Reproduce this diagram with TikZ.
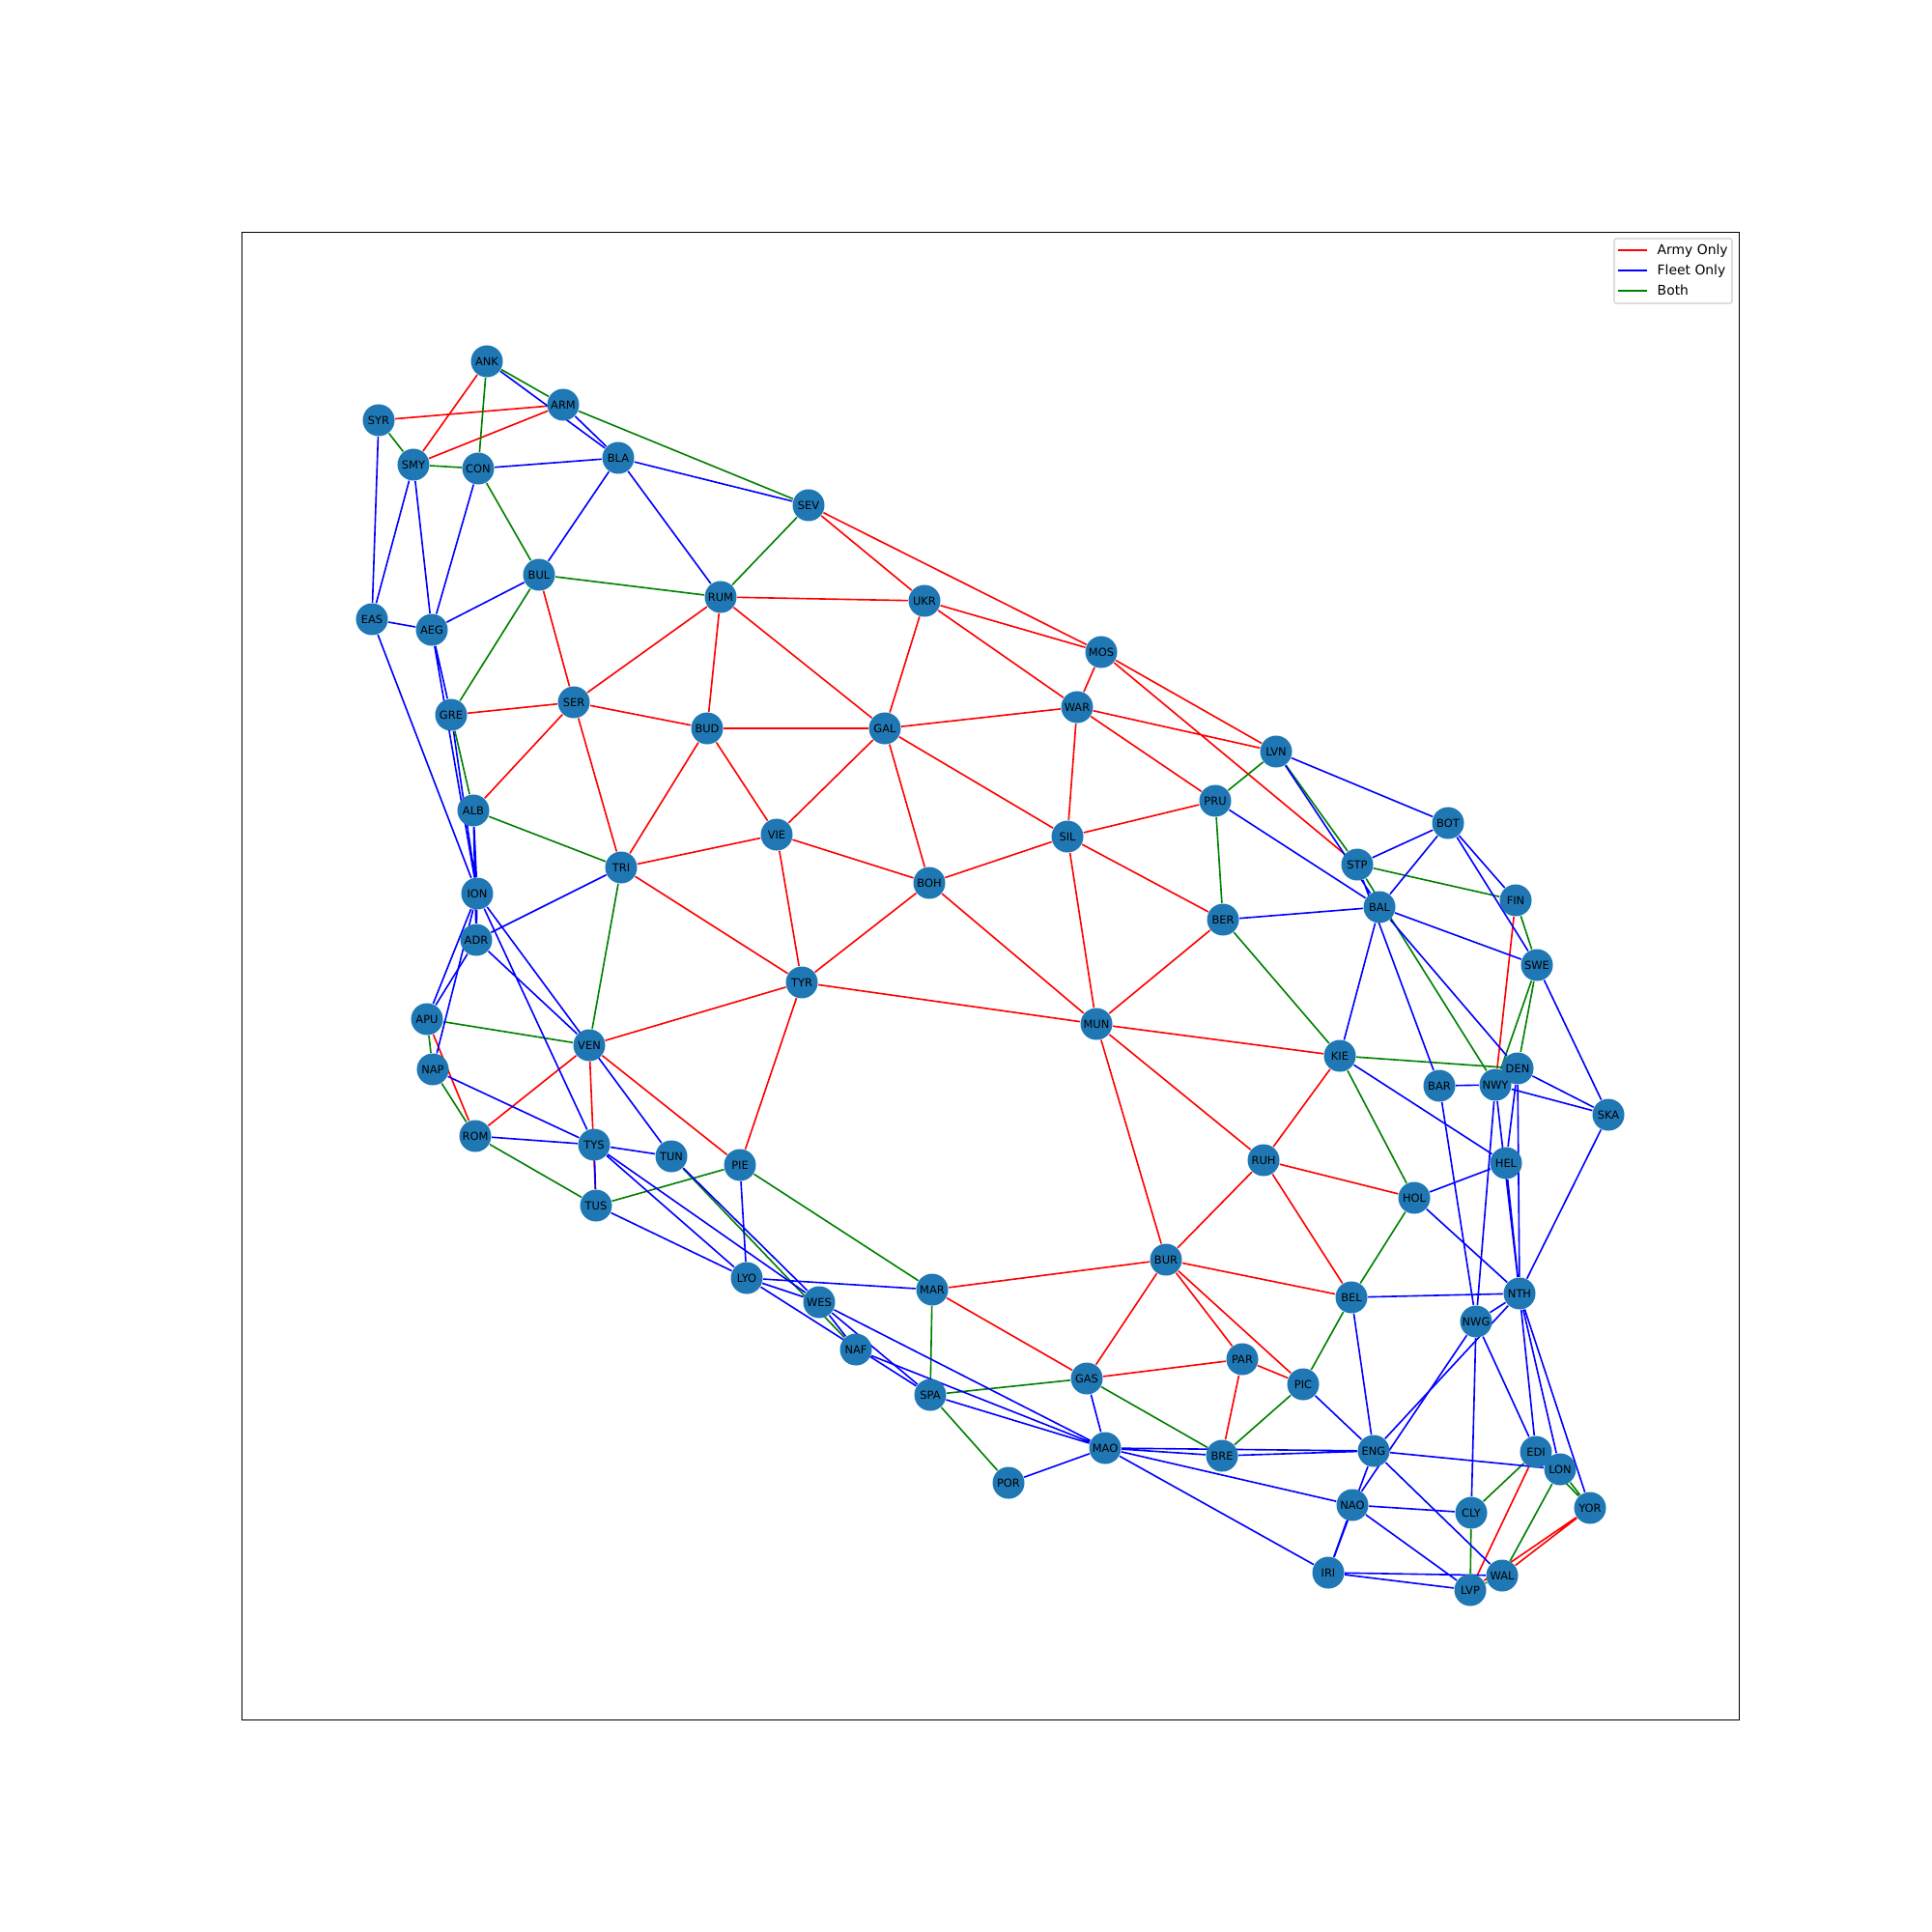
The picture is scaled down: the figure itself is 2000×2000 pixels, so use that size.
\documentclass[tikz,border=0pt]{standalone}
\usepackage{fontspec}
\setmainfont{DejaVu Sans}
\usepackage{tikz}
\usetikzlibrary{backgrounds}
\definecolor{nodeblue}{HTML}{1F77B4}
\definecolor{bothgreen}{HTML}{008000}
\tikzset{
  prov/.style={circle,fill=nodeblue,draw=none,minimum size=.33cm,inner sep=0pt,font=\fontsize{3.25}{3.7}\selectfont,text=black},
  army/.style={draw=red,line width=.46pt},
  fleet/.style={draw=blue,line width=.46pt},
  both/.style={draw=bothgreen,line width=.46pt},
  legtext/.style={anchor=base west,inner sep=0pt,font=\fontsize{3.95}{4.6}\selectfont,text=black}
}

\begin{document}
\begin{tikzpicture}[x=.01cm,y=-.01cm,line cap=round,line join=round]
  \useasboundingbox (0,0) rectangle (2000,2000);
  \draw[line width=.26pt,line cap=butt,line join=miter] (250,240) rectangle (1800,1780);
  % turkey and the balkans
  \node[prov] (ANK) at (504,374) {ANK};
  \node[prov] (ARM) at (583,419) {ARM};
  \node[prov] (SYR) at (392,435) {SYR};
  \node[prov] (SMY) at (428,481) {SMY};
  \node[prov] (CON) at (495,485) {CON};
  \node[prov] (BLA) at (640,474) {BLA};
  \node[prov] (SEV) at (837,523) {SEV};
  \node[prov] (BUL) at (558,595) {BUL};
  \node[prov] (RUM) at (746,618) {RUM};
  \node[prov] (UKR) at (957,622) {UKR};
  \node[prov] (EAS) at (385,641) {EAS};
  \node[prov] (AEG) at (447,652) {AEG};
  \node[prov] (MOS) at (1140,675) {MOS};
  \node[prov] (SER) at (594,727) {SER};
  \node[prov] (WAR) at (1115,732) {WAR};
  \node[prov] (GRE) at (467,740) {GRE};
  \node[prov] (BUD) at (732,754) {BUD};
  \node[prov] (GAL) at (916,754) {GAL};
  \node[prov] (LVN) at (1321,778) {LVN};
  \node[prov] (PRU) at (1258,829) {PRU};
  \node[prov] (ALB) at (490,839) {ALB};
  \node[prov] (BOT) at (1499,852) {BOT};
  \node[prov] (VIE) at (804,864) {VIE};
  \node[prov] (SIL) at (1105,866) {SIL};
  \node[prov] (STP) at (1405,895) {STP};
  \node[prov] (TRI) at (643,898) {TRI};
  \node[prov] (BOH) at (962,914) {BOH};
  \node[prov] (ION) at (494,925) {ION};
  \node[prov] (FIN) at (1569,932) {FIN};
  \node[prov] (BAL) at (1428,939) {BAL};
  \node[prov] (BER) at (1266,952) {BER};
  \node[prov] (ADR) at (493,973) {ADR};
  \node[prov] (SWE) at (1591,999) {SWE};
  \node[prov] (TYR) at (830,1017) {TYR};
  % italy and the centre
  \node[prov] (APU) at (442,1055) {APU};
  \node[prov] (MUN) at (1135,1060) {MUN};
  \node[prov] (VEN) at (610,1082) {VEN};
  \node[prov] (KIE) at (1387,1093) {KIE};
  \node[prov] (DEN) at (1571,1106) {DEN};
  \node[prov] (NAP) at (448,1107) {NAP};
  \node[prov] (NWY) at (1548,1123) {NWY};
  \node[prov] (BAR) at (1490,1124) {BAR};
  \node[prov] (SKA) at (1665,1154) {SKA};
  \node[prov] (ROM) at (492,1176) {ROM};
  \node[prov] (TYS) at (615,1185) {TYS};
  \node[prov] (TUN) at (695,1197) {TUN};
  \node[prov] (RUH) at (1308,1201) {RUH};
  \node[prov] (HEL) at (1559,1204) {HEL};
  \node[prov] (PIE) at (766,1206) {PIE};
  \node[prov] (HOL) at (1464,1240) {HOL};
  \node[prov] (TUS) at (617,1248) {TUS};
  \node[prov] (BUR) at (1207,1304) {BUR};
  \node[prov] (LYO) at (773,1323) {LYO};
  \node[prov] (MAR) at (965,1335) {MAR};
  \node[prov] (NTH) at (1573,1339) {NTH};
  \node[prov] (BEL) at (1399,1343) {BEL};
  \node[prov] (WES) at (848,1348) {WES};
  \node[prov] (NWG) at (1528,1368) {NWG};
  % the west and britain
  \node[prov] (NAF) at (886,1397) {NAF};
  \node[prov] (PAR) at (1286,1407) {PAR};
  \node[prov] (GAS) at (1125,1427) {GAS};
  \node[prov] (PIC) at (1349,1433) {PIC};
  \node[prov] (SPA) at (963,1444) {SPA};
  \node[prov] (MAO) at (1144,1499) {MAO};
  \node[prov] (ENG) at (1422,1502) {ENG};
  \node[prov] (EDI) at (1590,1503) {EDI};
  \node[prov] (BRE) at (1265,1507) {BRE};
  \node[prov] (LON) at (1615,1521) {LON};
  \node[prov] (POR) at (1044,1535) {POR};
  \node[prov] (NAO) at (1400,1558) {NAO};
  \node[prov] (YOR) at (1646,1561) {YOR};
  \node[prov] (CLY) at (1523,1566) {CLY};
  \node[prov] (IRI) at (1375,1628) {IRI};
  \node[prov] (WAL) at (1555,1631) {WAL};
  \node[prov] (LVP) at (1522,1646) {LVP};
  % connections
  \begin{scope}[on background layer]
    \draw[army] (SYR)--(ARM) (ANK)--(SMY) (ARM)--(SMY) (BUL)--(SER) (GRE)--(SER);
    \draw[army] (SER)--(ALB) (SER)--(RUM) (SER)--(BUD) (SER)--(TRI) (BUD)--(RUM);
    \draw[army] (BUD)--(GAL) (BUD)--(TRI) (BUD)--(VIE) (RUM)--(UKR) (RUM)--(GAL);
    \draw[army] (UKR)--(GAL) (UKR)--(MOS) (UKR)--(WAR) (SEV)--(UKR) (SEV)--(MOS);
    \draw[army] (MOS)--(WAR) (MOS)--(LVN) (MOS)--(STP) (WAR)--(GAL) (WAR)--(LVN);
    \draw[army] (WAR)--(PRU) (WAR)--(SIL) (GAL)--(VIE) (GAL)--(BOH) (GAL)--(SIL);
    \draw[army] (VIE)--(TRI) (VIE)--(BOH) (VIE)--(TYR) (TRI)--(TYR) (BOH)--(SIL);
    \draw[army] (BOH)--(TYR) (BOH)--(MUN) (SIL)--(PRU) (SIL)--(BER) (SIL)--(MUN);
    \draw[army] (BER)--(MUN) (TYR)--(VEN) (TYR)--(MUN) (TYR)--(PIE) (MUN)--(KIE);
    \draw[army] (MUN)--(RUH) (MUN)--(BUR) (KIE)--(RUH) (RUH)--(HOL) (RUH)--(BUR);
    \draw[army] (RUH)--(BEL) (BUR)--(BEL) (BUR)--(MAR) (BUR)--(GAS) (BUR)--(PAR);
    \draw[army] (BUR)--(PIC) (PAR)--(GAS) (PAR)--(PIC) (PAR)--(BRE) (MAR)--(GAS);
    \draw[army] (VEN)--(PIE) (VEN)--(TUS) (VEN)--(ROM) (APU)--(ROM) (FIN)--(NWY);
    \draw[army] (EDI)--(LVP) (YOR)--(LVP) (YOR)--(WAL);
    \draw[both] (ANK)--(ARM) (ANK)--(CON) (ARM)--(SEV) (SYR)--(SMY) (SMY)--(CON);
    \draw[both] (CON)--(BUL) (BUL)--(RUM) (BUL)--(GRE) (SEV)--(RUM) (GRE)--(ALB);
    \draw[both] (ALB)--(TRI) (TRI)--(VEN) (APU)--(VEN) (APU)--(NAP) (NAP)--(ROM);
    \draw[both] (ROM)--(TUS) (TUS)--(PIE) (PIE)--(MAR) (MAR)--(SPA) (SPA)--(GAS);
    \draw[both] (SPA)--(POR) (TUN)--(NAF) (GAS)--(BRE) (BRE)--(PIC) (PIC)--(BEL);
    \draw[both] (BEL)--(HOL) (HOL)--(KIE) (KIE)--(BER) (KIE)--(DEN) (BER)--(PRU);
    \draw[both] (PRU)--(LVN) (LVN)--(STP) (STP)--(FIN) (STP)--(NWY) (FIN)--(SWE);
    \draw[both] (SWE)--(DEN) (SWE)--(NWY) (EDI)--(CLY) (EDI)--(YOR) (LON)--(YOR);
    \draw[both] (LON)--(WAL) (CLY)--(LVP) (WAL)--(LVP);
    \draw[fleet] (ANK)--(BLA) (ARM)--(BLA) (CON)--(BLA) (BLA)--(SEV) (BLA)--(RUM);
    \draw[fleet] (BLA)--(BUL) (SMY)--(EAS) (SMY)--(AEG) (SYR)--(EAS) (CON)--(AEG);
    \draw[fleet] (EAS)--(AEG) (BUL)--(AEG) (EAS)--(ION) (AEG)--(GRE) (AEG)--(ION);
    \draw[fleet] (GRE)--(ION) (ALB)--(ION) (ALB)--(ADR) (ION)--(ADR) (ION)--(APU);
    \draw[fleet] (ION)--(NAP) (ION)--(TUN) (ION)--(TYS) (ADR)--(VEN) (ADR)--(TRI);
    \draw[fleet] (ADR)--(APU) (NAP)--(TYS) (ROM)--(TYS) (TYS)--(TUN) (TYS)--(TUS);
    \draw[fleet] (TYS)--(LYO) (TYS)--(WES) (TUS)--(LYO) (TUN)--(WES) (PIE)--(LYO);
    \draw[fleet] (LYO)--(WES) (LYO)--(MAR) (LYO)--(SPA) (WES)--(SPA) (WES)--(NAF);
    \draw[fleet] (WES)--(MAO) (NAF)--(MAO) (SPA)--(MAO) (POR)--(MAO) (GAS)--(MAO);
    \draw[fleet] (BRE)--(MAO) (MAO)--(ENG) (MAO)--(IRI) (MAO)--(NAO) (BRE)--(ENG);
    \draw[fleet] (PIC)--(ENG) (BEL)--(ENG) (BEL)--(NTH) (ENG)--(IRI) (ENG)--(NTH);
    \draw[fleet] (ENG)--(WAL) (ENG)--(LON) (NWG)--(NAO) (NWG)--(NTH) (NWG)--(BAR);
    \draw[fleet] (NWG)--(NWY) (NWG)--(CLY) (NWG)--(EDI) (NAO)--(IRI) (NAO)--(CLY);
    \draw[fleet] (NAO)--(LVP) (IRI)--(LVP) (IRI)--(WAL) (NTH)--(EDI) (NTH)--(LON);
    \draw[fleet] (NTH)--(YOR) (NTH)--(HEL) (NTH)--(DEN) (NTH)--(NWY) (NTH)--(HOL);
    \draw[fleet] (NTH)--(SKA) (HEL)--(DEN) (HEL)--(HOL) (HEL)--(KIE) (NWY)--(BAR);
    \draw[fleet] (NWY)--(SKA) (DEN)--(SKA) (DEN)--(BAL) (SWE)--(SKA) (SWE)--(BAL);
    \draw[fleet] (SWE)--(BOT) (BOT)--(FIN) (BOT)--(STP) (BOT)--(LVN) (BOT)--(BAL);
    \draw[fleet] (BAL)--(KIE) (BAL)--(BER) (BAL)--(PRU) (BAL)--(LVN) (STP)--(BAR);
  \end{scope}
  % legend
  \draw[draw=black!20,fill=white,line width=.3pt,rounded corners=.6pt] (1671,247) rectangle (1793,314);
  \node[legtext] (legarmy) at (1715,263.5) {Army Only};
  \node[legtext] (legfleet) at (1715,284.5) {Fleet Only};
  \node[legtext] (legboth) at (1715,305) {Both};
  \coordinate (armyA) at (1675,259);
  \coordinate (armyB) at (1705,259);
  \coordinate (fleetA) at (1675,280);
  \coordinate (fleetB) at (1705,280);
  \coordinate (bothA) at (1675,301);
  \coordinate (bothB) at (1705,301);
  \draw[army,line cap=butt] (armyA)--(armyB);
  \draw[fleet,line cap=butt] (fleetA)--(fleetB);
  \draw[both,line cap=butt] (bothA)--(bothB);
\end{tikzpicture}
\end{document}
